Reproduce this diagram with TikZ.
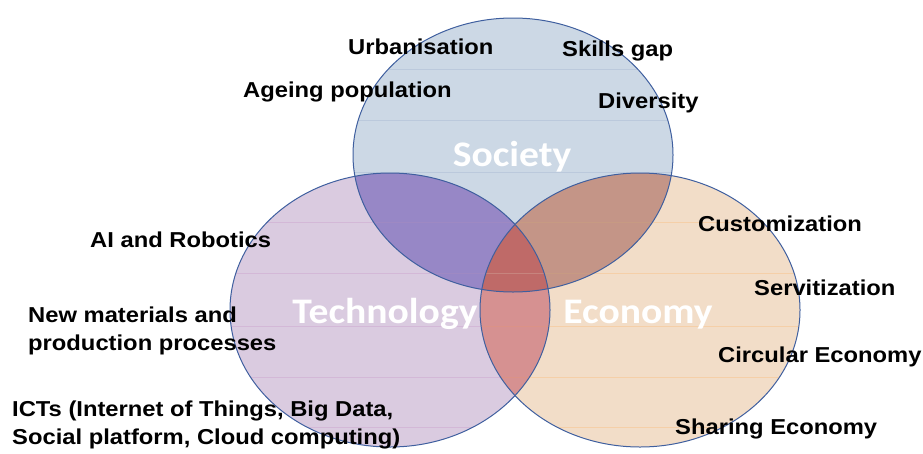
\documentclass[tikz,border=0pt]{standalone}
\usepackage{fontspec}
\setmainfont{Liberation Sans}
\newfontfamily\itemfont[FakeStretch=1.1]{Liberation Sans}
\newfontfamily\titlefont[FakeStretch=1.1]{Carlito}
\usepackage{tikz}
\usetikzlibrary{positioning}
\definecolor{socfill}{HTML}{CCD8E5}
\definecolor{techfill}{HTML}{DACBE0}
\definecolor{ecofill}{HTML}{F2DDC8}
\definecolor{stfill}{HTML}{9787C6}
\definecolor{sefill}{HTML}{C49587}
\definecolor{tefill}{HTML}{D69191}
\definecolor{stefill}{HTML}{BF6A68}
\definecolor{rim}{HTML}{3F5F9F}
\tikzstyle{item} = [anchor=base west, inner sep=0pt, align=left, font=\itemfont\bfseries\fontsize{21.6}{28}\selectfont]
\tikzstyle{title} = [anchor=base, inner sep=0pt, text=white, font=\titlefont\bfseries\fontsize{36}{40}\selectfont]
\tikzstyle{seam} = [line width=0.6pt, opacity=0.25]
\newcommand{\society}{(513,155) ellipse [x radius=160pt, y radius=137pt]}
\newcommand{\technology}{(390,310) ellipse [x radius=160pt, y radius=137pt]}
\newcommand{\economy}{(640,310) ellipse [x radius=160pt, y radius=137pt]}

\begin{document}
\begin{tikzpicture}[x=1pt, y=-1pt]
            \useasboundingbox (0,0) rectangle (923,453);
            % circles
            \fill [socfill] \society;
            \fill [techfill] \technology;
            \fill [ecofill] \economy;
            % overlaps
            \begin{scope}
                \clip \society;
                \fill [stfill] \technology;
                \fill [sefill] \economy;
            \end{scope}
            \begin{scope}
                \clip \technology;
                \fill [tefill] \economy;
            \end{scope}
            \begin{scope}
                \clip \society;
                \clip \technology;
                \fill [stefill] \economy;
            \end{scope}
            % faint seams
            \begin{scope}
                \clip \society;
                \foreach \y in {69,120,172,222,273} \draw [seam, rim!60] (350,\y) -- (680,\y);
            \end{scope}
            \begin{scope}
                \clip \technology;
                \foreach \y in {222,273,326,377,427} \draw [seam, violet!50] (225,\y) -- (555,\y);
            \end{scope}
            \begin{scope}
                \clip \economy;
                \foreach \y in {222,273,326,377,427} \draw [seam, orange!70] (475,\y) -- (805,\y);
            \end{scope}
            % outlines
            \draw [rim, line width=1pt] \society;
            \draw [rim, line width=1pt] \technology;
            \draw [rim, line width=1pt] \economy;
            % titles
            \node (soc) [title] at (512,166) {Society};
            \node (tech) [title] at (385,323) {Technology};
            \node (eco) [title] at (638,323) {Economy};
            % society
            \node (urban) [item] at (348,54) {Urbanisation};
            \node (skills) [item] at (562,56) {Skills gap};
            \node (ageing) [item] at (243,97) {Ageing population};
            \node (divers) [item] at (598,108) {Diversity};
            % technology
            \node (ai) [item] at (90,247) {AI and Robotics};
            \node (materials) [item] at (28,350) {New materials and\\production processes};
            \node (icts) [item] at (12,444) {ICTs (Internet of Things, Big Data,\\Social platform, Cloud computing)};
            % economy
            \node (custom) [item] at (698,231) {Customization};
            \node (servit) [item] at (754,295) {Servitization};
            \node (circular) [item] at (718,362) {Circular Economy};
            \node (sharing) [item] at (675,434) {Sharing Economy};
        \end{tikzpicture}
\end{document}
